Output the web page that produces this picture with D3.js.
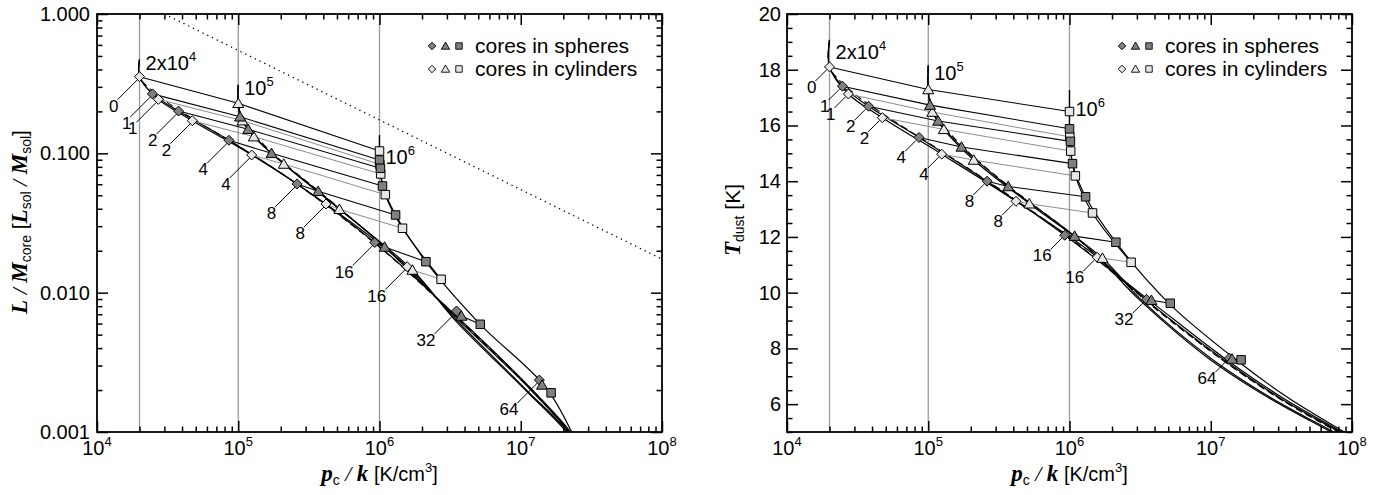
<!DOCTYPE html>
<html>
<head>
  <meta charset="UTF-8">
  <style>
    body { margin: 0; background: #fff; }
    svg { display: block; font-family: "Liberation Sans", Arial, sans-serif; }
    .bi { font-family: "Liberation Serif", "Times New Roman", serif; font-weight: bold; font-style: italic; }
    .it { font-family: "Liberation Serif", "Times New Roman", serif; font-style: italic; }
  </style>
</head>
<body>
<svg></svg>
<script src="https://d3js.org/d3.v7.min.js"></script>

<script>

let width = 1396, height = 495;

let svg = d3.select("svg")
    .attr("width", width)
    .attr("height", height)

// ---- data ----
const labels = [0, 1, 2, 4, 8, 16, 32, 64];
const pExt = [2e4, 1e5, 1e6];
const pExtBase = ["2x10", "10", "10"];
const pExtPow = ["4", "5", "6"];

// central pressure p_c/k of the marked models (row = external pressure)
const pcSph = [
  [2.0e4, 2.47e4, 3.78e4, 8.6e4, 2.61e5, 9.25e5, 3.51e6, 1.355e7],
  [1.0e5, 1.03e5, 1.175e5, 1.72e5, 3.68e5, 1.087e6, 3.8e6, 1.415e7],
  [1.0e6, 1.0e6, 1.015e6, 1.05e6, 1.3e6, 2.13e6, 5.17e6, 1.64e7]
];
const pcCyl = [
  [2.0e4, 2.72e4, 4.73e4, 1.245e5, 4.18e5, 1.57e6],
  [1.0e5, 1.07e5, 1.29e5, 2.1e5, 5.2e5, 1.71e6],
  [1.0e6, 1.005e6, 1.02e6, 1.1e6, 1.455e6, 2.73e6]
];

// L / M_core
const lumSph = [
  [0.355, 0.267, 0.201, 0.124, 0.0603, 0.0229, 0.00739, 0.00236],
  [0.2286, 0.183, 0.1488, 0.100, 0.0534, 0.02127, 0.0068, 0.002175],
  [0.1039, 0.0896, 0.0781, 0.0583, 0.0361, 0.01668, 0.00593, 0.00191]
];
const lumCyl = [
  [0.355, 0.244, 0.1715, 0.0973, 0.0433, 0.01536],
  [0.2286, 0.1715, 0.1317, 0.0838, 0.0397, 0.01454],
  [0.1039, 0.0834, 0.0711, 0.0505, 0.029, 0.01247]
];

// T_dust
const tdSph = [
  [18.1, 17.41, 16.69, 15.57, 14.0, 12.06, 9.76, 7.65],
  [17.29, 16.73, 16.16, 15.23, 13.81, 12.03, 9.73, 7.62],
  [16.5, 15.88, 15.43, 14.63, 13.44, 11.81, 9.62, 7.59]
];
const tdCyl = [
  [18.1, 17.13, 16.28, 14.97, 13.28, 11.27],
  [17.29, 16.48, 15.86, 14.76, 13.19, 11.24],
  [16.5, 15.59, 15.08, 14.19, 12.86, 11.09]
];

// start of each model sequence (at p_c = p_ext)
const lumTop = [0.47, 0.31, 0.135];
const tdTop = [19.07, 18.15, 17.27];

// continuation of the sequences beyond the last marked model
const lumTailSph = [
  [[3.5e6, 0.0068], [1.1e7, 0.00221], [2.25e7, 0.001], [2.6e7, 0.00078]],
  [[3.5e6, 0.0066], [1.1e7, 0.00215], [2.2e7, 0.001], [2.55e7, 0.00077]],
  [[5.1e6, 0.0060], [1.5e7, 0.0021], [2.35e7, 0.00095], [2.5e7, 0.00082]]
];
const lumTailCyl = [
  [[3.5e6, 0.00637], [1.1e7, 0.0020], [2.15e7, 0.001], [2.5e7, 0.00075]],
  [[3.5e6, 0.0062], [1.1e7, 0.00196], [2.1e7, 0.001], [2.45e7, 0.00075]],
  []
];
const tdTailSph = [
  [[3.6e6, 9.76], [1.25e7, 7.65], [3.2e7, 6.24], [8.5e7, 5.0], [9.5e7, 4.85]],
  [[3.45e6, 9.76], [1.2e7, 7.65], [3.05e7, 6.24], [8.2e7, 5.0], [9.2e7, 4.85]],
  [[5.1e6, 9.6], [1.55e7, 7.55], [3.6e7, 6.2], [8.8e7, 5.0], [9.8e7, 4.85]]
];
const tdTailCyl = [
  [[3.1e6, 9.76], [9.6e6, 7.65], [2.55e7, 6.24], [7.1e7, 5.0], [8e7, 4.85]],
  [[3.2e6, 9.76], [1.0e7, 7.65], [2.65e7, 6.24], [7.4e7, 5.0], [8.3e7, 4.85]],
  []
];

// dashed sequences
const lumDash = [
  [[2e4, 0.47], [2e4, 0.355], [2.9e4, 0.247], [5e4, 0.172], [1e5, 0.113], [2.5e5, 0.062], [1e6, 0.0212], [3.5e6, 0.0067], [1.1e7, 0.00219], [2.2e7, 0.001], [2.6e7, 0.00077]],
  [[1e5, 0.31], [1e5, 0.2286], [1.1e5, 0.166], [1.35e5, 0.13], [1.9e5, 0.093], [3.8e5, 0.0525], [1.1e6, 0.021], [3.5e6, 0.00665], [1.1e7, 0.00217], [2.2e7, 0.001], [2.55e7, 0.00077]]
];
const tdDash = [
  [[2e4, 19.07], [2e4, 18.1], [2.9e4, 17.2], [5e4, 16.35], [1e5, 15.38], [2.5e5, 14.08], [1e6, 11.97], [3.5e6, 9.72], [1.2e7, 7.6], [3.1e7, 6.2], [8.3e7, 4.98], [9.3e7, 4.85]],
  [[1e5, 18.15], [1e5, 17.29], [1.1e5, 16.5], [1.35e5, 15.86], [1.9e5, 15.07], [3.8e5, 13.78], [1.1e6, 12.0], [3.45e6, 9.72], [1.2e7, 7.6], [3.05e7, 6.2], [8.1e7, 4.98], [9.1e7, 4.85]]
];

// dotted reference line (left panel)
const dotLine = [[3.0e4, 1.0], [1e8, 0.0174]];

// annotation anchors for the p_ext labels
const lumAnnot = [0.396, 0.262, 0.0837];
const tdAnnot = [18.4, 17.63, 16.34];

// axis ticks
const xMajor = [1e4, 1e5, 1e6, 1e7, 1e8];
const yTicksL = [0.001, 0.01, 0.1, 1];
const yTickTextL = ["0.001", "0.010", "0.100", "1.000"];
const yTicksR = [6, 8, 10, 12, 14, 16, 18, 20];

// ---- drawing ----
const dark = "#808080", light = "#e6e6e6";

const shapePath = [
  s => `M0,${-s}L${s},0L0,${s}L${-s},0Z`,
  s => `M0,${-s * 1.05}L${s * 1.1},${s * 0.85}L${-s * 1.1},${s * 0.85}Z`,
  s => `M${-s * 0.85},${-s * 0.85}H${s * 0.85}V${s * 0.85}H${-s * 0.85}Z`
];

const panels = [
  { x0: 97, x1: 662, y0: 14, y1: 432, log: true, sph: lumSph, cyl: lumCyl, top: lumTop,
    tailS: lumTailSph, tailC: lumTailCyl, dash: lumDash, annot: lumAnnot,
    lead: [-2, 3, -22, 23], lab: [-21, 35] },
  { x0: 787, x1: 1352, y0: 14, y1: 432, log: false, sph: tdSph, cyl: tdCyl, top: tdTop,
    tailS: tdTailSph, tailC: tdTailCyl, dash: tdDash, annot: tdAnnot,
    lead: [-3, 3, -14, 14], lab: [-13, 26] }
];

panels.forEach((P, pi) => {
  const g = svg.append("g");
  const x = d3.scaleLog().domain([1e4, 1e8]).range([P.x0, P.x1]);
  const y = P.log
      ? d3.scaleLog().domain([0.001, 1]).range([P.y1, P.y0])
      : d3.scaleLinear().domain([5, 20]).range([P.y1, P.y0]);

  svg.append("clipPath").attr("id", "clip" + pi)
    .append("rect").attr("x", P.x0).attr("y", P.y0)
    .attr("width", P.x1 - P.x0).attr("height", P.y1 - P.y0);

  // vertical lines at the external pressures
  g.selectAll("line.pext").data(pExt).enter().append("line")
    .attr("x1", d => x(d)).attr("x2", d => x(d))
    .attr("y1", P.y0).attr("y2", P.y1)
    .style("stroke", "#9a9a9a").style("stroke-width", "1.3px");

  const plot = g.append("g").attr("clip-path", "url(#clip" + pi + ")");
  const line = d3.line().x(d => x(d[0])).y(d => y(d[1]));
  const smooth = d3.line().x(d => x(d[0])).y(d => y(d[1])).curve(d3.curveCatmullRom.alpha(0.5));

  if (pi == 0) {
    plot.append("path").attr("d", line(dotLine))
      .style("fill", "none").style("stroke", "#000")
      .style("stroke-width", "1.3px").style("stroke-dasharray", "1.3,4");
  }

  // model sequences
  pExt.forEach((pe, k) => {
    let sp = [[pe, P.top[k]]];
    for (let i = 0; i < 6; i++) sp.push([pcSph[k][i], P.sph[k][i]]);
    sp = sp.concat(P.tailS[k]);
    let cp = [[pe, P.top[k]]];
    for (let i = 0; i < 6; i++) cp.push([pcCyl[k][i], P.cyl[k][i]]);
    cp = cp.concat(P.tailC[k]);
    [sp, cp].forEach(pts => {
      plot.append("path").attr("d", smooth(pts))
        .style("fill", "none").style("stroke", "#000").style("stroke-width", "1.2px");
    });
  });
  P.dash.forEach(pts => {
    plot.append("path").attr("d", smooth(pts))
      .style("fill", "none").style("stroke", "#000").style("stroke-width", "1.1px")
      .style("stroke-dasharray", "7,4");
  });

  // lines linking equal labels across external pressures
  for (let i = 1; i < pcCyl[0].length; i++) {
    const pts = pExt.map((pe, k) => [pcCyl[k][i], P.cyl[k][i]]);
    plot.append("path").attr("d", line(pts))
      .style("fill", "none").style("stroke", "#8c8c8c").style("stroke-width", "1px");
  }
  for (let i = 0; i < labels.length; i++) {
    const pts = pExt.map((pe, k) => [pcSph[k][i], P.sph[k][i]]);
    plot.append("path").attr("d", line(pts))
      .style("fill", "none").style("stroke", "#000").style("stroke-width", "1.1px");
  }

  // label leaders (on the 2x10^4 models)
  const tagged = [];
  for (let i = 0; i < pcCyl[0].length; i++) tagged.push([pcCyl[0][i], P.cyl[0][i], labels[i]]);
  for (let i = 1; i < labels.length; i++) tagged.push([pcSph[0][i], P.sph[0][i], labels[i]]);
  tagged.forEach(d => {
    const px = x(d[0]), py = y(d[1]);
    g.append("line")
      .attr("x1", px + P.lead[0]).attr("y1", py + P.lead[1])
      .attr("x2", px + P.lead[2]).attr("y2", py + P.lead[3])
      .style("stroke", "#000").style("stroke-width", "1px");
    g.append("text")
      .attr("x", px + P.lab[0]).attr("y", py + P.lab[1])
      .attr("text-anchor", "end").attr("font-size", 17)
      .text(d[2]);
  });

  // markers
  pExt.forEach((pe, k) => {
    for (let i = 0; i < pcCyl[k].length; i++) {
      g.append("path").attr("d", shapePath[k](5))
        .attr("transform", `translate(${x(pcCyl[k][i])},${y(P.cyl[k][i])})`)
        .style("fill", light).style("stroke", "#000").style("stroke-width", "1px");
    }
    for (let i = 1; i < labels.length; i++) {
      g.append("path").attr("d", shapePath[k](5))
        .attr("transform", `translate(${x(pcSph[k][i])},${y(P.sph[k][i])})`)
        .style("fill", dark).style("stroke", "#000").style("stroke-width", "1px");
    }
  });

  // p_ext annotations
  pExt.forEach((pe, k) => {
    const t = g.append("text").attr("x", x(pe) + 6).attr("y", y(P.annot[k])).attr("font-size", 20);
    t.append("tspan").text(pExtBase[k]);
    t.append("tspan").attr("font-size", 13).attr("dy", -9).text(pExtPow[k]);
  });

  // legend
  [[dark, "cores in spheres", 46], [light, "cores in cylinders", 69]].forEach(row => {
    [0, 1, 2].forEach(k => {
      g.append("path").attr("d", shapePath[k](3.8))
        .attr("transform", `translate(${P.x1 - 230 + k * 13.5},${row[2]})`)
        .style("fill", row[0]).style("stroke", "#000").style("stroke-width", "0.9px");
    });
    g.append("text").attr("x", P.x1 - 187).attr("y", row[2] + 7)
      .attr("font-size", 21).text(row[1]);
  });

  // axes
  const isMajor = v => Math.abs(Math.log10(v) - Math.round(Math.log10(v))) < 1e-9;
  const xMinor = x.ticks().filter(v => !isMajor(v));
  const yMajor = P.log ? yTicksL : yTicksR;
  const yMinor = P.log ? y.ticks().filter(v => !isMajor(v)) : d3.range(5, 20.01, 0.5).filter(v => v % 2 != 0);

  const axes = [
    [d3.axisBottom(x), `translate(0,${P.y1})`, xMajor, xMinor],
    [d3.axisTop(x), `translate(0,${P.y0})`, xMajor, xMinor],
    [d3.axisLeft(y), `translate(${P.x0},0)`, yMajor, yMinor],
    [d3.axisRight(y), `translate(${P.x1},0)`, yMajor, yMinor]
  ];
  axes.forEach(a => {
    [[a[2], -11], [a[3], -5.5]].forEach(tk => {
      const ag = g.append("g").attr("transform", a[1])
        .call(a[0].tickValues(tk[0]).tickSize(tk[1]).tickFormat(""));
      ag.select(".domain").remove();
      ag.selectAll("line").style("stroke-width", "1.5px");
    });
  });

  g.append("rect").attr("x", P.x0).attr("y", P.y0)
    .attr("width", P.x1 - P.x0).attr("height", P.y1 - P.y0)
    .style("fill", "none").style("stroke", "#000").style("stroke-width", "1.8px");

  // tick labels
  xMajor.forEach(v => {
    const t = g.append("text").attr("x", x(v)).attr("y", 455)
      .attr("text-anchor", "middle").attr("font-size", 20);
    t.append("tspan").text("10");
    t.append("tspan").attr("font-size", 13).attr("dy", -9).text(Math.round(Math.log10(v)));
  });
  yMajor.forEach((v, i) => {
    g.append("text").attr("x", P.x0 - (P.log ? 7 : 6)).attr("y", y(v) + 7)
      .attr("text-anchor", "end").attr("font-size", 20)
      .text(P.log ? yTickTextL[i] : v);
  });

  // x title
  const xt = g.append("text").attr("x", (P.x0 + P.x1) / 2).attr("y", 481)
    .attr("text-anchor", "middle").attr("font-size", 20);
  xt.append("tspan").attr("class", "bi").attr("font-size", 23).text("p");
  xt.append("tspan").attr("font-size", 14).attr("dy", 4).text("c");
  xt.append("tspan").attr("class", "it").attr("font-size", 22).attr("dy", -4).text(" / ");
  xt.append("tspan").attr("class", "bi").attr("font-size", 23).text("k");
  xt.append("tspan").text(" [K/cm");
  xt.append("tspan").attr("font-size", 13).attr("dy", -9).text("3");
  xt.append("tspan").attr("dy", 9).text("]");

  // y title
  if (pi == 0) {
    const yt = g.append("text").attr("transform", "translate(27,222) rotate(-90)")
      .attr("text-anchor", "middle").attr("font-size", 21);
    yt.append("tspan").attr("class", "bi").attr("font-size", 23).text("L");
    yt.append("tspan").attr("class", "it").attr("font-size", 22).text(" / ");
    yt.append("tspan").attr("class", "bi").attr("font-size", 23).text("M");
    yt.append("tspan").attr("font-size", 14).attr("dy", 4).text("core");
    yt.append("tspan").attr("dy", -4).text(" [");
    yt.append("tspan").attr("class", "bi").attr("font-size", 23).text("L");
    yt.append("tspan").attr("font-size", 14).attr("dy", 4).text("sol");
    yt.append("tspan").attr("class", "it").attr("font-size", 22).attr("dy", -4).text(" / ");
    yt.append("tspan").attr("class", "bi").attr("font-size", 23).text("M");
    yt.append("tspan").attr("font-size", 14).attr("dy", 4).text("sol");
    yt.append("tspan").attr("dy", -4).text("]");
  } else {
    const yt = g.append("text").attr("transform", "translate(740,220) rotate(-90)")
      .attr("text-anchor", "middle").attr("font-size", 21);
    yt.append("tspan").attr("class", "bi").attr("font-size", 23).text("T");
    yt.append("tspan").attr("font-size", 14).attr("dy", 4).text("dust");
    yt.append("tspan").attr("dy", -4).text(" [K]");
  }
});

</script>

</body>
</html>
